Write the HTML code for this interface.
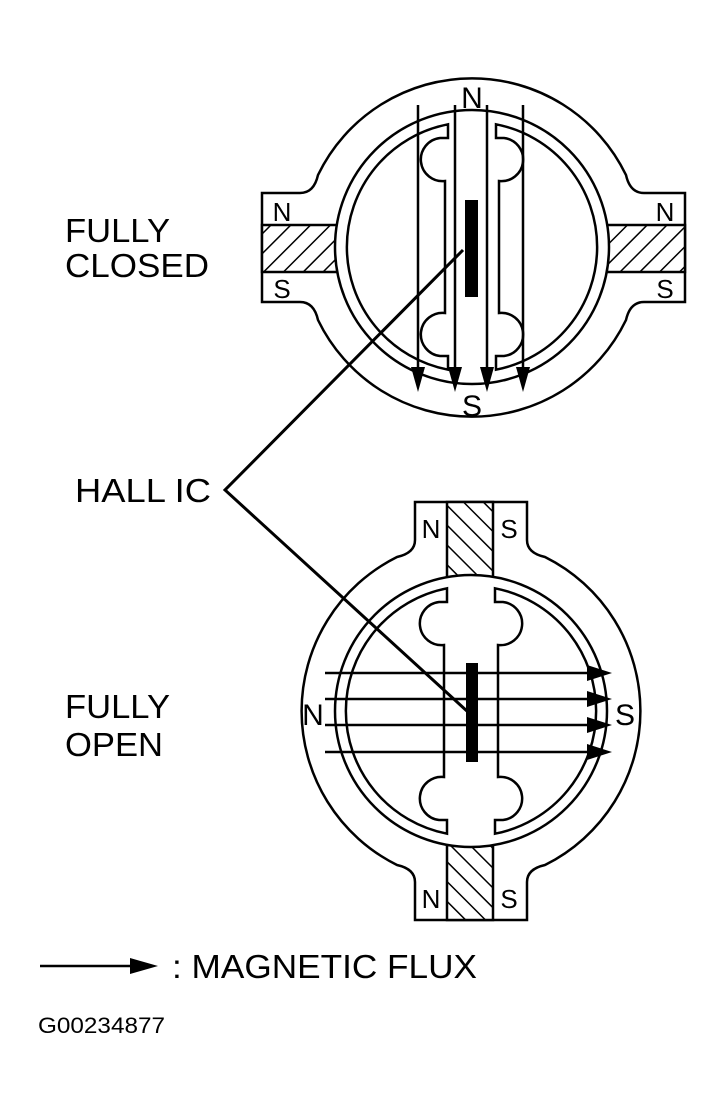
<!DOCTYPE html>
<html><head><meta charset="utf-8"><style>
html,body{margin:0;padding:0;background:#fff}
svg{display:block}
text{font-family:"Liberation Sans",Arial,sans-serif;fill:#000}
</style></head><body>
<svg width="723" height="1107" viewBox="0 0 723 1107" xmlns="http://www.w3.org/2000/svg">
<defs>
<pattern id="h1" patternUnits="userSpaceOnUse" width="14" height="14" patternTransform="rotate(45)">
<rect width="14" height="14" fill="#fff"/><line x1="0" y1="0" x2="0" y2="14" stroke="#000" stroke-width="3"/></pattern>
<pattern id="h2" patternUnits="userSpaceOnUse" width="14" height="14" patternTransform="rotate(-45)">
<rect width="14" height="14" fill="#fff"/><line x1="0" y1="0" x2="0" y2="14" stroke="#000" stroke-width="3"/></pattern>
</defs>
<g fill="none" stroke="#000" stroke-width="2.5">
<!-- TOP DIAGRAM -->
<path d="M262,193 L300,193 Q314,193 318,175 A171 171 0 0 1 626,175 Q630,193 644,193 L685,193 L685,302 L644,302 Q630,302 626,320 A171 171 0 0 1 318,320 Q314,302 300,302 L262,302 Z"/>
<rect x="262" y="225" width="76" height="47" fill="url(#h1)"/>
<rect x="606" y="225" width="79" height="47" fill="url(#h1)"/>
<circle cx="472" cy="247" r="137" fill="#fff"/>
<g transform="translate(472,247)">
<path d="M-24,-122.7 A125 125 0 0 0 -24,122.7 L-24,109 L-32,109 A21 21 0 1 1 -27,66 L-27,-66 A21 21 0 1 1 -32,-109 L-24,-109 Z"/>
<path transform="scale(-1,1)" d="M-24,-122.7 A125 125 0 0 0 -24,122.7 L-24,109 L-32,109 A21 21 0 1 1 -27,66 L-27,-66 A21 21 0 1 1 -32,-109 L-24,-109 Z"/>
</g>
<line x1="418" y1="105" x2="418" y2="370"/><line x1="455" y1="105" x2="455" y2="370"/>
<line x1="487" y1="105" x2="487" y2="370"/><line x1="523" y1="105" x2="523" y2="370"/>
<!-- BOTTOM DIAGRAM -->
<path d="M415,502 L527,502 L527,540 Q527,553 545,557 A172 172 0 0 1 545,865 Q527,869 527,882 L527,920 L415,920 L415,882 Q415,869 397,865 A172 172 0 0 1 397,557 Q415,553 415,540 Z"/>
<rect x="447" y="502" width="46" height="76" fill="url(#h2)"/>
<rect x="447" y="845" width="46" height="75" fill="url(#h2)"/>
<circle cx="471" cy="711" r="136" fill="#fff"/>
<g transform="translate(471,711)">
<path d="M-24,-122.7 A125 125 0 0 0 -24,122.7 L-24,109 L-32,109 A21 21 0 1 1 -27,66 L-27,-66 A21 21 0 1 1 -32,-109 L-24,-109 Z"/>
<path transform="scale(-1,1)" d="M-24,-122.7 A125 125 0 0 0 -24,122.7 L-24,109 L-32,109 A21 21 0 1 1 -27,66 L-27,-66 A21 21 0 1 1 -32,-109 L-24,-109 Z"/>
</g>
<line x1="325" y1="673" x2="590" y2="673"/><line x1="325" y1="699" x2="590" y2="699"/>
<line x1="325" y1="725" x2="590" y2="725"/><line x1="325" y1="752" x2="590" y2="752"/>
<!-- leader -->
<polyline points="463,250 225,490 468,712" stroke-width="3"/>
<!-- legend -->
<line x1="40" y1="966" x2="135" y2="966"/>
</g>
<rect x="465" y="200" width="13" height="97" fill="#000"/>
<rect x="466" y="663" width="12" height="99" fill="#000"/>
<g fill="#000">
<polygon points="411,367 425,367 418,392"/><polygon points="448,367 462,367 455,392"/>
<polygon points="480,367 494,367 487,392"/><polygon points="516,367 530,367 523,392"/>
<polygon points="587,665 587,681 612,673"/><polygon points="587,691 587,707 612,699"/>
<polygon points="587,717 587,733 612,725"/><polygon points="587,744 587,760 612,752"/>
<polygon points="130,958 130,974 158,966"/>
</g>
<g font-size="30">
<text x="472" y="108" text-anchor="middle">N</text>
<text x="472" y="416" text-anchor="middle">S</text>
<text x="282" y="221" text-anchor="middle" font-size="26">N</text>
<text x="282" y="298" text-anchor="middle" font-size="26">S</text>
<text x="665" y="221" text-anchor="middle" font-size="26">N</text>
<text x="665" y="298" text-anchor="middle" font-size="26">S</text>
<text x="431" y="538" text-anchor="middle" font-size="26">N</text>
<text x="509" y="538" text-anchor="middle" font-size="26">S</text>
<text x="431" y="908" text-anchor="middle" font-size="26">N</text>
<text x="509" y="908" text-anchor="middle" font-size="26">S</text>
<text x="313" y="725" text-anchor="middle">N</text>
<text x="625" y="725" text-anchor="middle">S</text>
</g>
<g font-size="33">
<text x="65" y="242" textLength="105" lengthAdjust="spacingAndGlyphs">FULLY</text>
<text x="65" y="277" textLength="144" lengthAdjust="spacingAndGlyphs">CLOSED</text>
<text x="75" y="502" textLength="136" lengthAdjust="spacingAndGlyphs">HALL IC</text>
<text x="65" y="718" textLength="105" lengthAdjust="spacingAndGlyphs">FULLY</text>
<text x="65" y="756" textLength="98" lengthAdjust="spacingAndGlyphs">OPEN</text>
<text x="172" y="978" textLength="305" lengthAdjust="spacingAndGlyphs">: MAGNETIC FLUX</text>
</g>
<text x="38" y="1033" font-size="22" textLength="127" lengthAdjust="spacingAndGlyphs">G00234877</text>
</svg>
</body></html>
